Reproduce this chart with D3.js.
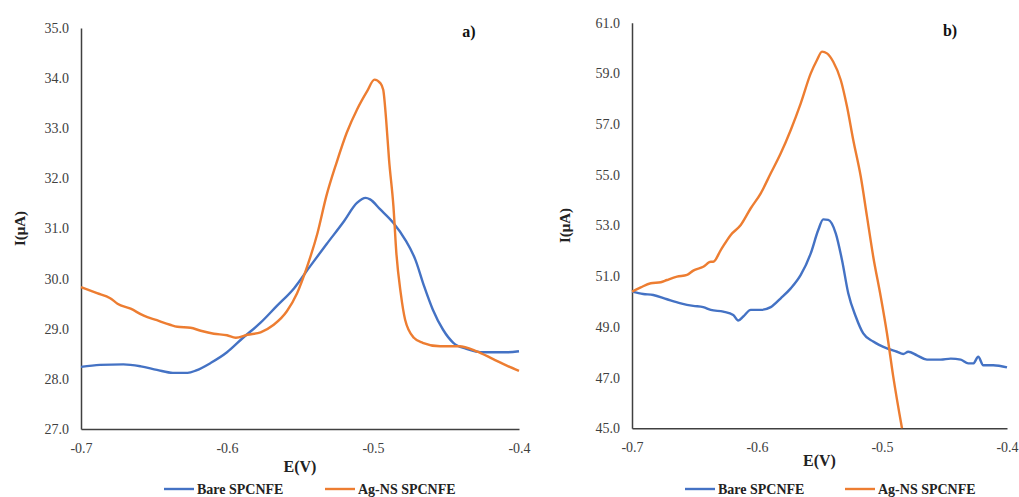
<!DOCTYPE html>
<html>
<head>
<meta charset="utf-8">
<script src="https://cdn.jsdelivr.net/npm/d3@7"></script>
<style>
  body { margin: 0; background: #fff; }
  svg { display: block; }
</style>
</head>
<body>
<div id="chart"></div>
<script>
var width = 1019, height = 497;
var serif = "'Liberation Serif', 'Times New Roman', serif";

// panel a) Bare vs Ag-NS, E(V) and I(uA)
var aBareE = [-0.7,-0.687,-0.671,-0.659,-0.648,-0.637,-0.627,-0.621,-0.611,-0.600,-0.589,-0.577,-0.566,-0.554,-0.543,-0.532,-0.520,-0.511,-0.505,-0.502,-0.495,-0.486,-0.478,-0.471,-0.465,-0.459,-0.452,-0.445,-0.436,-0.424,-0.413,-0.408,-0.4];
var aBareI = [28.24,28.28,28.29,28.25,28.18,28.12,28.12,28.17,28.32,28.53,28.82,29.12,29.45,29.81,30.25,30.68,31.14,31.51,31.61,31.58,31.38,31.11,30.78,30.38,29.85,29.38,28.98,28.72,28.60,28.53,28.53,28.53,28.55];
var aAgE = [-0.7,-0.689,-0.680,-0.675,-0.666,-0.657,-0.648,-0.639,-0.634,-0.625,-0.618,-0.609,-0.600,-0.594,-0.586,-0.577,-0.568,-0.559,-0.552,-0.545,-0.538,-0.532,-0.525,-0.518,-0.511,-0.504,-0.499,-0.495,-0.493,-0.491,-0.489,-0.486,-0.484,-0.481,-0.478,-0.472,-0.466,-0.454,-0.441,-0.429,-0.418,-0.408,-0.4];
var aAgI = [29.83,29.71,29.61,29.50,29.40,29.26,29.17,29.08,29.04,29.02,28.96,28.90,28.87,28.82,28.88,28.93,29.08,29.35,29.71,30.25,30.91,31.64,32.31,32.91,33.37,33.74,33.97,33.90,33.77,33.17,32.37,31.44,30.51,29.71,29.18,28.82,28.72,28.65,28.65,28.55,28.40,28.26,28.16];

// panel b)
var bBareE = [-0.7,-0.691,-0.683,-0.672,-0.661,-0.651,-0.643,-0.637,-0.627,-0.619,-0.615,-0.611,-0.605,-0.597,-0.589,-0.581,-0.573,-0.565,-0.557,-0.551,-0.547,-0.543,-0.537,-0.532,-0.527,-0.521,-0.515,-0.507,-0.496,-0.488,-0.483,-0.479,-0.472,-0.464,-0.453,-0.445,-0.437,-0.431,-0.427,-0.423,-0.419,-0.411,-0.4];
var bBareI = [50.39,50.30,50.26,50.09,49.93,49.83,49.78,49.67,49.60,49.47,49.25,49.41,49.67,49.67,49.78,50.13,50.52,51.05,51.90,52.82,53.24,53.22,52.69,51.64,50.33,49.41,48.74,48.42,48.15,48.02,47.93,48.02,47.88,47.71,47.71,47.75,47.71,47.56,47.56,47.82,47.49,47.49,47.40];
var bAgE = [-0.7,-0.693,-0.685,-0.677,-0.672,-0.664,-0.656,-0.651,-0.643,-0.637,-0.635,-0.629,-0.621,-0.613,-0.605,-0.597,-0.589,-0.581,-0.573,-0.565,-0.557,-0.552,-0.548,-0.544,-0.539,-0.533,-0.528,-0.523,-0.517,-0.512,-0.507,-0.501,-0.496,-0.491,-0.484];
var bAgI = [50.39,50.56,50.72,50.76,50.85,50.98,51.05,51.22,51.37,51.57,51.57,52.03,52.63,53.02,53.68,54.27,55.06,55.85,56.77,57.82,59.00,59.53,59.86,59.79,59.46,58.74,57.69,56.37,54.93,53.35,51.77,50.19,48.74,47.04,45.0];

var xTicks = [-0.7, -0.6, -0.5, -0.4];
var seriesNames = ["Bare SPCNFE", "Ag-NS SPCNFE"];
var colors = ["#4472C4", "#ED7D31"];

// plain hyphen instead of d3's unicode minus, like the original
var fmt = function(d) { return d.toFixed(1); };

var svg = d3.select("#chart").append("svg")
  .attr("width", width).attr("height", height)
  .style("font-family", serif);

function zip(xs, ys) {
  return xs.map(function(x, i) { return [x, ys[i]]; });
}

function styleAxis(sel) {
  sel.attr("font-family", null).attr("font-size", null);
  sel.select(".domain").attr("stroke", "#404040").attr("stroke-width", 1.5);
  sel.selectAll("text")
    .style("font-family", serif)
    .style("font-size", "14px")
    .attr("fill", "#404040");
}

function drawPanel(opt) {
  var g = svg.append("g");
  var x = d3.scaleLinear().domain([-0.7, -0.4]).range([opt.x0, opt.x1]);
  var y = d3.scaleLinear().domain(opt.yDomain).range([opt.y1, opt.y0]);

  var line = d3.line()
    .x(function(d) { return x(d[0]); })
    .y(function(d) { return y(d[1]); })
    .curve(d3.curveMonotoneX);

  g.append("g")
    .attr("transform", "translate(0," + opt.y1 + ")")
    .call(d3.axisBottom(x).tickValues(xTicks).tickSize(0).tickPadding(14).tickFormat(fmt))
    .call(styleAxis);

  g.append("g")
    .attr("transform", "translate(" + opt.x0 + ",0)")
    .call(d3.axisLeft(y).tickValues(opt.yTicks).tickSize(0).tickPadding(12).tickFormat(fmt))
    .call(styleAxis);

  g.selectAll(".line")
    .data(opt.series)
    .enter().append("path")
    .attr("fill", "none")
    .attr("stroke", function(d, i) { return colors[i]; })
    .attr("stroke-width", 2.4)
    .attr("stroke-linejoin", "round")
    .attr("d", line);

  // titles
  g.append("text")
    .attr("x", (opt.x0 + opt.x1) / 2).attr("y", opt.xTitleY)
    .attr("text-anchor", "middle")
    .attr("font-weight", "bold").attr("font-size", 16).attr("fill", "#222")
    .text("E(V)");

  g.append("text")
    .attr("transform", "translate(" + opt.yTitleX + "," + ((opt.y0 + opt.y1) / 2) + ") rotate(-90)")
    .attr("text-anchor", "middle").attr("dy", "0.35em")
    .attr("font-weight", "bold").attr("font-size", 15).attr("fill", "#222")
    .text("I(μA)");

  g.append("text")
    .attr("x", opt.labelX).attr("y", opt.labelY)
    .attr("text-anchor", "middle")
    .attr("font-weight", "bold").attr("font-size", 16).attr("fill", "#111")
    .text(opt.label);

  // legend
  var leg = g.selectAll(".leg")
    .data(seriesNames)
    .enter().append("g")
    .attr("transform", function(d, i) { return "translate(" + opt.legX[i] + ",489)"; });

  leg.append("line")
    .attr("x1", 0).attr("x2", 30)
    .attr("stroke", function(d, i) { return colors[i]; })
    .attr("stroke-width", 2.4);

  leg.append("text")
    .attr("x", 33).attr("dy", "0.35em")
    .attr("font-weight", "bold").attr("font-size", 14).attr("fill", "#222")
    .text(function(d) { return d; });
}

drawPanel({
  x0: 81, x1: 519, y0: 28, y1: 429,
  yDomain: [27, 35], yTicks: d3.range(27, 35.5, 1),
  series: [zip(aBareE, aBareI), zip(aAgE, aAgI)],
  xTitleY: 472, yTitleX: 20, label: "a)", labelX: 469, labelY: 37,
  legX: [164, 325]
});

drawPanel({
  x0: 632, x1: 1007, y0: 22.7, y1: 428.3,
  yDomain: [45, 61], yTicks: d3.range(45, 61.5, 2),
  series: [zip(bBareE, bBareI), zip(bAgE, bAgI)],
  xTitleY: 466, yTitleX: 565, label: "b)", labelX: 950, labelY: 36,
  legX: [685, 845]
});
</script>
</body>
</html>
